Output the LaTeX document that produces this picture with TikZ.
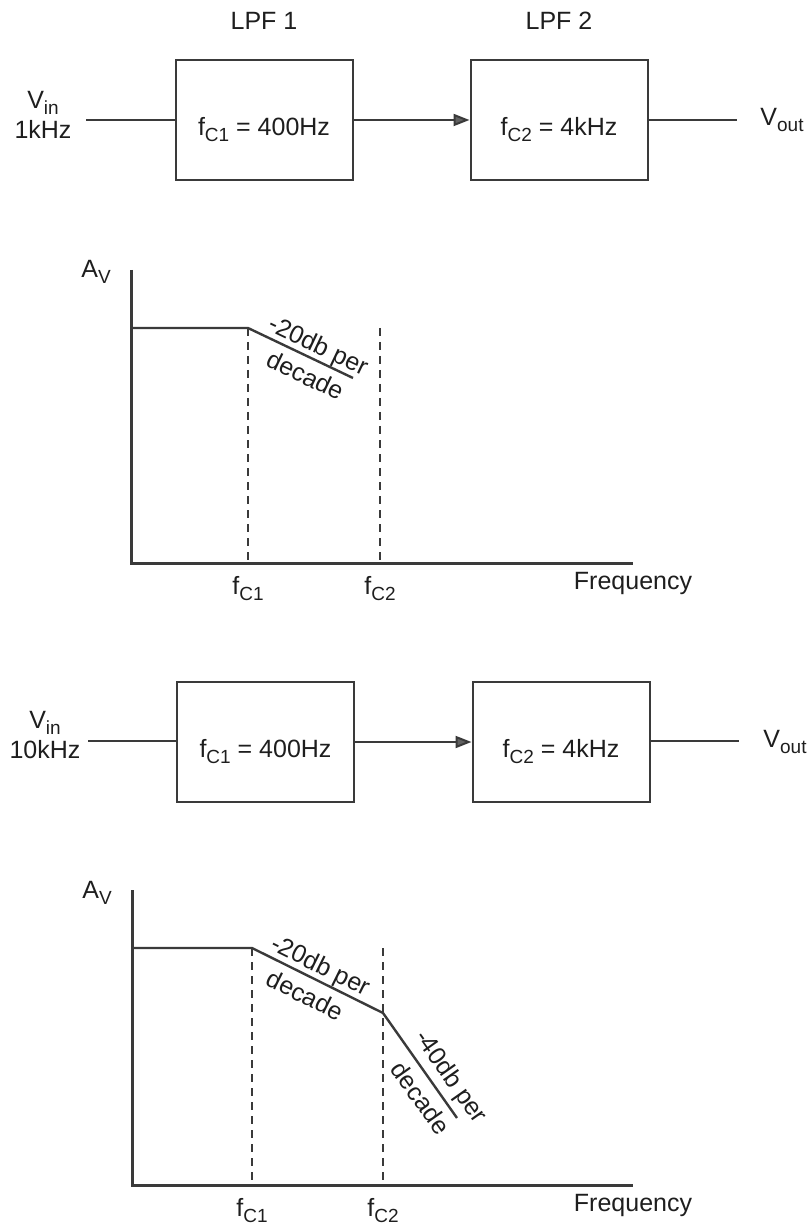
\documentclass[tikz,border=0pt]{standalone}
\usepackage{fontspec}
\setmainfont{Liberation Sans}
\usetikzlibrary{positioning, arrows.meta}
\definecolor{scanInk}{HTML}{3A3A3A}
\definecolor{scanText}{HTML}{1E1E1E}
\newcommand{\lowsub}[1]{\raisebox{-0.45ex}{\fontsize{9.5}{10}\selectfont #1}}

\begin{document}
\begin{tikzpicture}[x=0.5pt, y=-0.5pt,
		every node/.style={font=\fontsize{12.5}{15}\selectfont, text=scanText},
		filterbox/.style={draw=scanInk, line width=1pt, minimum width=88.5pt,
			minimum height=60pt, inner sep=0pt, text height=15.5pt, text depth=0pt},
		wire/.style={draw=scanInk, line width=1pt},
		axisline/.style={draw=scanInk, line width=1.5pt},
		response/.style={draw=scanInk, line width=1.2pt, line join=round},
		cutoff/.style={draw=scanInk, line width=0.9pt, dash pattern=on 4pt off 3pt},
		slopetext/.style={sloped, inner sep=0pt}]
	\useasboundingbox (0,0) rectangle (811,1224);

	% first chain, 1kHz input
	\node[filterbox] (lpf1) at (264,120) {f\lowsub{C1} = 400Hz};
	\node[filterbox] (lpf2) at (559,120) {f\lowsub{C2} = 4kHz};
	\node[inner sep=0pt, above=14.5pt of lpf1] (lpf1name) {LPF 1};
	\node[inner sep=0pt, above=14.5pt of lpf2] (lpf2name) {LPF 2};
	\node[align=center, inner sep=0pt] (vin1) at (43,115) {V\lowsub{in}\\1kHz};
	\node (vout1) at (782,120) {V\lowsub{out}};
	\coordinate (in1) at (86,120);
	\coordinate (out1) at (737,120);
	\draw[wire] (in1) -- (lpf1.west);
	\draw[wire, -{Triangle[length=8pt, width=6pt, fill=scanInk!80]}] (lpf1.east) -- (lpf2.west);
	\draw[wire] (lpf2.east) -- (out1);

	% first response
	\coordinate (o1) at (131,563);
	\coordinate (ytop1) at (131,270);
	\coordinate (xend1) at (633,563);
	\coordinate (a1) at (131,328);
	\coordinate (k1) at (248,328);
	\coordinate (e1) at (353,378);
	\coordinate (c1top) at (380,328);
	\draw[cutoff] (k1) -- (k1 |- o1);
	\draw[cutoff] (c1top) -- (c1top |- o1);
	\draw[axisline] (ytop1) -- (o1) -- (xend1);
	\draw[response] (a1) -- (k1) -- node[slopetext, pos=0.61, yshift=6.5pt] {-20db per}
		node[slopetext, pos=0.62, yshift=-9pt] {decade} (e1);
	\node (av1) at (96,272) {A\lowsub{V}};
	\node[below=3pt] (fc1a) at (k1 |- o1) {f\lowsub{C1}};
	\node[below=3pt] (fc2a) at (c1top |- o1) {f\lowsub{C2}};
	\node[below=1pt] (freq1) at (xend1) {Frequency};

	% second chain, 10kHz input
	\node[filterbox] (lpf3) at (265.5,742) {f\lowsub{C1} = 400Hz};
	\node[filterbox] (lpf4) at (561,742) {f\lowsub{C2} = 4kHz};
	\node[align=center, inner sep=0pt] (vin2) at (45,735) {V\lowsub{in}\\10kHz};
	\node (vout2) at (785,742) {V\lowsub{out}};
	\coordinate (in2) at (88,741);
	\coordinate (out2) at (739,741);
	\draw[wire] (in2) -- (in2 -| lpf3.west);
	\draw[wire, -{Triangle[length=8pt, width=6pt, fill=scanInk!80]}] (lpf3.east) -- (lpf4.west);
	\draw[wire] (lpf4.east) -- (out2 -| lpf4.east) -- (out2);

	% second response
	\coordinate (o2) at (132,1185);
	\coordinate (ytop2) at (132,890);
	\coordinate (xend2) at (633,1185);
	\coordinate (a2) at (132,948);
	\coordinate (k2) at (252,948);
	\coordinate (k3) at (383,1013);
	\coordinate (e2) at (457,1118);
	\coordinate (c2top) at (383,948);
	\draw[cutoff] (k2) -- (k2 |- o2);
	\draw[cutoff] (c2top) -- (c2top |- o2);
	\draw[axisline] (ytop2) -- (o2) -- (xend2);
	\draw[response] (a2) -- (k2) -- node[slopetext, pos=0.475, yshift=6.6pt] {-20db per}
		node[slopetext, pos=0.47, yshift=-9.2pt] {decade} (k3)
		-- node[slopetext, pos=0.71, yshift=9pt] {-40db per}
		node[slopetext, pos=0.71, yshift=-9pt] {decade} (e2);
	\node (av2) at (97,893) {A\lowsub{V}};
	\node[below=3pt] (fc1b) at (k2 |- o2) {f\lowsub{C1}};
	\node[below=3pt] (fc2b) at (c2top |- o2) {f\lowsub{C2}};
	\node[below=1pt] (freq2) at (xend2) {Frequency};
\end{tikzpicture}
\end{document}
